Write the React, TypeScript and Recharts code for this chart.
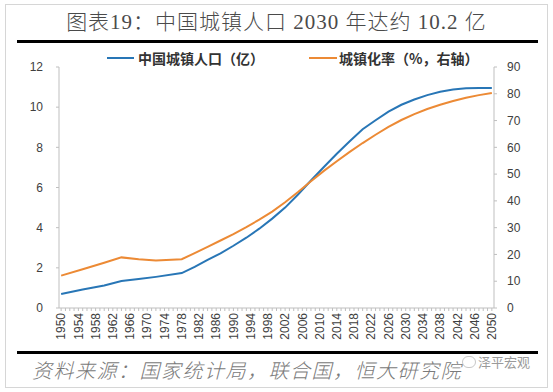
import React from 'react';
import { LineChart, Line, XAxis, YAxis } from 'recharts';

const years = [1950, 1955, 1960, 1964, 1968, 1972, 1978, 1981, 1984, 1987, 1990, 1993, 1996, 1999, 2002, 2005, 2008, 2011, 2014, 2017, 2020, 2023, 2026, 2029, 2032, 2035, 2038, 2041, 2044, 2047, 2050];
const urbanPop = [0.70, 0.92, 1.12, 1.34, 1.44, 1.55, 1.74, 2.05, 2.40, 2.72, 3.10, 3.50, 3.95, 4.45, 5.00, 5.65, 6.35, 7.02, 7.68, 8.30, 8.90, 9.35, 9.78, 10.12, 10.38, 10.60, 10.77, 10.88, 10.94, 10.96, 10.96];
const urbanRate = [12.1, 14.5, 16.9, 18.9, 18.2, 17.7, 18.2, 20.5, 22.8, 25.2, 27.6, 30.2, 33.0, 36.0, 39.5, 43.3, 47.3, 51.2, 54.8, 58.3, 61.6, 64.7, 67.6, 70.2, 72.4, 74.3, 75.9, 77.3, 78.5, 79.5, 80.3];

const labelYears = [1950, 1954, 1958, 1962, 1966, 1970, 1974, 1978, 1982, 1986, 1990, 1994, 1998, 2002, 2006, 2010, 2014, 2018, 2022, 2026, 2030, 2034, 2038, 2042, 2046, 2050];
const leftTicks = [0, 2, 4, 6, 8, 10, 12];
const rightTicks = [0, 10, 20, 30, 40, 50, 60, 70, 80, 90];

const titleText = '图表19：中国城镇人口 2030 年达约 10.2 亿';
const popName = '中国城镇人口（亿）';
const rateName = '城镇化率（%，右轴）';
const sourceText = '资料来源：国家统计局，联合国，恒大研究院';
const watermark = '泽平宏观';

const allYears: number[] = [];
for (let y = labelYears[0]; y <= labelYears[labelYears.length - 1]; y++) allYears.push(y);

const data = years.map((y, i) => ({ year: y, pop: urbanPop[i], rate: urbanRate[i] }));

const BLUE = '#2876B6';
const ORANGE = '#EC8A35';
const AXIS = '#BFBFBF';
const TXT = '#404040';

const XTick = (props: any) => {
  const { x, y, payload } = props;
  const v = payload.value;
  if (!labelYears.includes(v)) return <g />;
  return (
    <text
      x={x}
      y={y}
      transform={`rotate(-90, ${x}, ${y})`}
      textAnchor="end"
      dy="0.35em"
      fontSize={12}
      fontFamily='"Liberation Sans", Arial, sans-serif'
      fill={TXT}
    >
      {v}
    </text>
  );
};

export default function App() {
  return (
    <div style={{ position: 'absolute', left: 0, top: 0, width: 553, height: 392, background: '#fff', overflow: 'hidden' }}>
      <div style={{ position: 'absolute', left: 5, top: 4, width: 541, height: 382, border: '1px solid #D6D6D6' }} />
      <div
        style={{
          position: 'absolute',
          left: 0,
          top: 7,
          width: 553,
          textAlign: 'center',
          fontSize: 21,
          lineHeight: '30px',
          color: '#4A4A4A',
          fontWeight: 300,
          letterSpacing: 1,
          fontFamily: '"Liberation Serif", "Noto Sans CJK SC", serif',
          whiteSpace: 'pre',
        }}
      >
        {titleText}
      </div>
      <div style={{ position: 'absolute', left: 17, top: 40, width: 521, height: 3, background: '#000' }} />

      <div style={{ position: 'absolute', left: 107, top: 57, width: 27, height: 2, background: BLUE }} />
      <div style={{ position: 'absolute', left: 138, top: 48, fontSize: 14, lineHeight: '20px', fontWeight: 700, color: '#333', fontFamily: '"Noto Sans CJK SC", sans-serif', whiteSpace: 'pre' }}>
        {popName}
      </div>
      <div style={{ position: 'absolute', left: 309, top: 57, width: 28, height: 2, background: ORANGE }} />
      <div style={{ position: 'absolute', left: 339, top: 48, fontSize: 14, lineHeight: '20px', fontWeight: 700, color: '#333', fontFamily: '"Noto Sans CJK SC", sans-serif', whiteSpace: 'pre' }}>
        {rateName}
      </div>

      <div style={{ position: 'absolute', left: 0, top: 0 }}>
        <LineChart width={553} height={392} data={data} margin={{ top: 67, right: 19, bottom: 44, left: 19 }}>
          <XAxis
            dataKey="year"
            type="number"
            domain={[1949.5, 2050.5]}
            ticks={allYears}
            interval={0}
            tick={<XTick />}
            tickSize={3}
            tickMargin={2}
            height={40}
            stroke={AXIS}
            axisLine={{ stroke: AXIS }}
            tickLine={{ stroke: AXIS }}
          />
          <YAxis
            yAxisId="left"
            domain={[0, 12]}
            ticks={leftTicks}
            interval={0}
            width={40}
            tickSize={3}
            tickMargin={13}
            axisLine={{ stroke: AXIS }}
            tickLine={{ stroke: AXIS }}
            tick={{ fontSize: 12, fill: TXT, fontFamily: '"Liberation Sans", Arial, sans-serif' }}
          />
          <YAxis
            yAxisId="right"
            orientation="right"
            domain={[0, 90]}
            ticks={rightTicks}
            interval={0}
            width={40}
            tickSize={3}
            tickMargin={10}
            axisLine={{ stroke: AXIS }}
            tickLine={{ stroke: AXIS }}
            tick={{ fontSize: 12, fill: TXT, fontFamily: '"Liberation Sans", Arial, sans-serif' }}
          />
          <Line yAxisId="left" type="linear" dataKey="pop" stroke={BLUE} strokeWidth={2} dot={false} isAnimationActive={false} />
          <Line yAxisId="right" type="linear" dataKey="rate" stroke={ORANGE} strokeWidth={2} dot={false} isAnimationActive={false} />
        </LineChart>
      </div>

      <div style={{ position: 'absolute', left: 17, top: 351, width: 521, height: 3, background: '#000' }} />
      <div
        style={{
          position: 'absolute',
          left: 32,
          top: 356,
          fontSize: 20,
          lineHeight: '28px',
          fontStyle: 'italic',
          fontWeight: 300,
          color: '#7A7A7A',
          letterSpacing: 1.5,
          fontFamily: '"Noto Sans CJK SC", sans-serif',
          whiteSpace: 'pre',
        }}
      >
        {sourceText}
      </div>
      <div style={{ position: 'absolute', left: 462, top: 356, width: 12, height: 10, borderRadius: 6, border: '1px solid #C8C8C8' }} />
      <div style={{ position: 'absolute', left: 478, top: 352, fontSize: 13, lineHeight: '20px', color: '#9A9A9A', fontFamily: '"Noto Sans CJK SC", sans-serif', whiteSpace: 'pre' }}>
        {watermark}
      </div>
    </div>
  );
}
